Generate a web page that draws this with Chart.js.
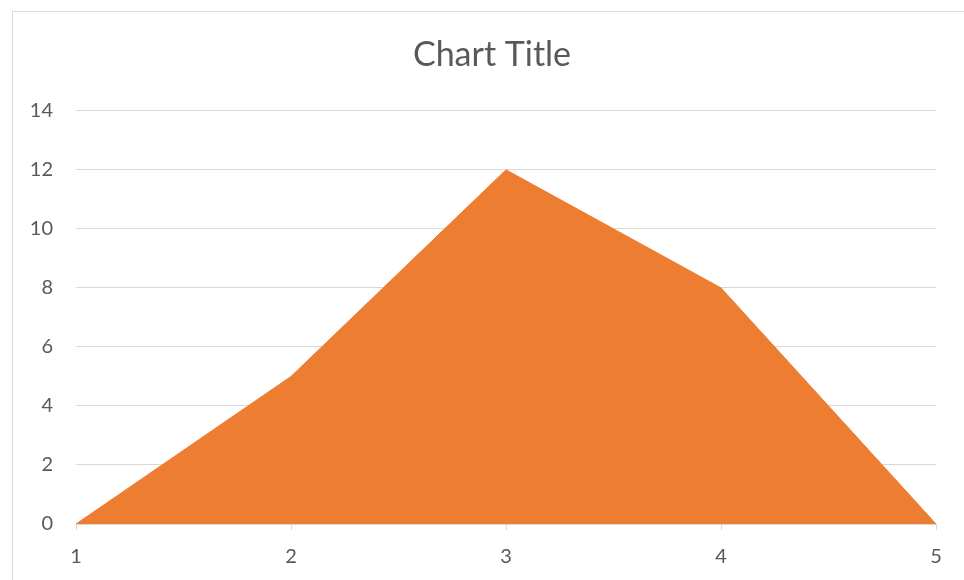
<!DOCTYPE html>
<html>
<head>
<meta charset="utf-8">
<script src="https://cdn.jsdelivr.net/npm/chart.js@4/dist/chart.umd.min.js"></script>
<style>
  html, body { margin: 0; padding: 0; background: #fff; overflow: hidden; }
  #chart { position: absolute; left: 0; top: 0; }
</style>
</head>
<body>
<canvas id="chart" width="984" height="580"></canvas>
<script>
const categories = ['1', '2', '3', '4', '5'];
const values = [0, 5, 12, 8, 0];
const yTicks = [0, 2, 4, 6, 8, 10, 12, 14];

// light frame around the chart, like the office chart border
const frame = {
    id: 'frame',
    beforeDraw(chart) {
        const c = chart.ctx;
        c.save();
        c.strokeStyle = '#d9d9d9';
        c.lineWidth = 1;
        c.strokeRect(12.5, 11.5, 1000, 1000);
        c.restore();
    }
};

const ctx = document.getElementById('chart');

new Chart(ctx, {
    type: 'line',
    data: {
        labels: categories,
        datasets: [{
            label: 'Series1',
            data: values,
            fill: 'origin',
            backgroundColor: '#ED7D31',
            borderColor: '#ED7D31',
            borderWidth: 1,
            pointRadius: 0,
            tension: 0
        }]
    },
    options: {
        responsive: false,
        animation: false,
        devicePixelRatio: 1,
        layout: { padding: 0 },
        plugins: {
            legend: { display: false },
            tooltip: { enabled: false },
            title: {
                display: true,
                text: 'Chart Title',
                color: '#595959',
                font: { family: 'Lato', size: 34, weight: 'normal' },
                padding: { top: 35, bottom: 35 }
            }
        },
        scales: {
            x: {
                offset: false,
                grid: {
                    drawOnChartArea: false,
                    drawTicks: true,
                    tickLength: 6,
                    color: '#d9d9d9'
                },
                border: { color: '#d9d9d9' },
                ticks: {
                    color: '#595959',
                    font: { family: 'Lato', size: 20 },
                    padding: 15,
                    maxRotation: 0
                },
                afterFit: (s) => { s.height = 56; }
            },
            y: {
                min: 0,
                max: 14,
                afterBuildTicks: (s) => { s.ticks = yTicks.map(v => ({ value: v })); },
                grid: { color: '#d9d9d9', drawTicks: false },
                border: { display: false },
                ticks: {
                    color: '#595959',
                    font: { family: 'Lato', size: 20 },
                    padding: 23
                },
                afterFit: (s) => { s.width = 76; }
            },
            // empty right-hand axis, only to centre the title over the whole frame
            spacer: {
                type: 'linear',
                position: 'right',
                grid: { display: false },
                border: { display: false },
                ticks: { display: false },
                afterFit: (s) => { s.width = 48; }
            }
        }
    },
    plugins: [frame]
});
</script>
</body>
</html>
